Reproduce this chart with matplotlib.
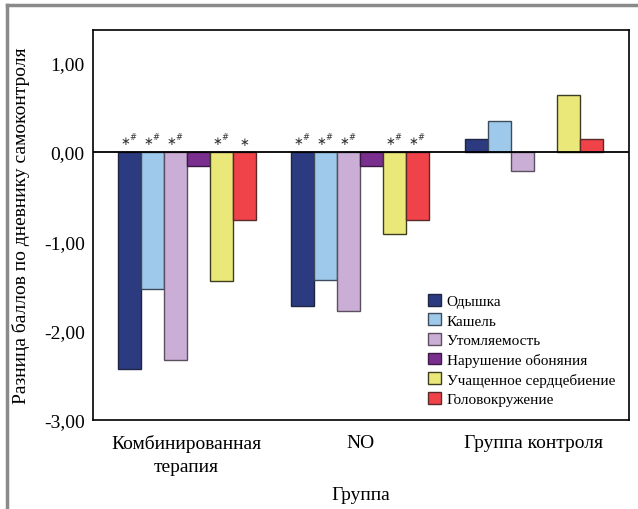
import numpy as np
import matplotlib.pyplot as plt
from matplotlib.lines import Line2D

plt.rcParams['font.family'] = ['Liberation Serif', 'DejaVu Serif']

# Данные
grupos = ["Комбинированная\nтерапия", "NO", "Группа контроля"]
simptomas = ["Одышка", "Кашель", "Утомляемость", "Нарушение обоняния",
             "Учащенное сердцебиение", "Головокружение"]
odyshka = [-2.43, -1.72, 0.15]
kashel = [-1.53, -1.43, 0.35]
utomlyaemost = [-2.33, -1.78, -0.21]
narushenie = [-0.16, -0.16, np.nan]
serdcebienie = [-1.44, -0.92, 0.64]
golovokruzhenie = [-0.76, -0.76, 0.15]
marcas = [["*#", "*#", "*#", "", "*#", "*"],
          ["*#", "*#", "*#", "", "*#", "*#"],
          ["", "", "", "", "", ""]]

series = [odyshka, kashel, utomlyaemost, narushenie, serdcebienie, golovokruzhenie]
colores = ["#2c3b80", "#9ec9eb", "#cbaed6", "#7a2f8f", "#ebe87a", "#ef4249"]
bordes = ["#1e2545", "#3d4b5c", "#5a5060", "#3a1a45", "#3d3d20", "#5a2a2a"]

fig = plt.figure(figsize=(6.38, 5.10), dpi=100)
ax = fig.add_axes([0.1458, 0.1745, 0.840, 0.7655])

x = np.arange(len(grupos))
ancho = 0.1326
for i, valores in enumerate(series):
    pos = x + (i - 2.5) * ancho
    ax.bar(pos, valores, ancho, color=colores[i], edgecolor=bordes[i],
           linewidth=1.0, label=simptomas[i])
    # Marcas de significancia sobre la linea cero
    for g in range(len(grupos)):
        m = marcas[g][i]
        if m:
            txt = r"$\ast$" + (r"$^{\#}$" if "#" in m else "")
            ax.annotate(txt, (pos[g], 0), xytext=(0, 3), textcoords="offset points",
                        ha="center", va="bottom", fontsize=8.5, color="#333333")

ax.axhline(0, color="black", linewidth=1.3, zorder=3)
ax.set_xlim(-0.54, 2.55)
ax.set_ylim(-3.0, 1.37)
ax.set_yticks([1, 0, -1, -2, -3])
ax.set_yticklabels(["1,00", "0,00", "-1,00", "-2,00", "-3,00"])
ax.set_xticks(x)
ax.set_xticklabels(grupos, linespacing=1.45)
ax.tick_params(length=0, labelsize=14, pad=6)
ax.tick_params(axis="x", pad=10)
for s in ax.spines.values():
    s.set_linewidth(1.2)

ax.set_ylabel("Разница баллов по дневнику самоконтроля", fontsize=14, labelpad=10)
ax.set_xlabel("Группа", fontsize=14, labelpad=8)

ax.legend(loc="lower right", bbox_to_anchor=(1.0, 0.0), frameon=False,
          fontsize=11, handlelength=0.8, handleheight=0.8, handletextpad=0.4,
          labelspacing=0.36, borderaxespad=0.5)

# Marco gris de la figura
fig.add_artist(Line2D([7 / 638, 7 / 638], [0, 1 - 6 / 510], transform=fig.transFigure,
                      color="#8a8a8a", linewidth=2.5))
fig.add_artist(Line2D([7 / 638, 1], [1 - 6 / 510, 1 - 6 / 510], transform=fig.transFigure,
                      color="#8a8a8a", linewidth=2.5))

fig.savefig("out.png", dpi=100)
